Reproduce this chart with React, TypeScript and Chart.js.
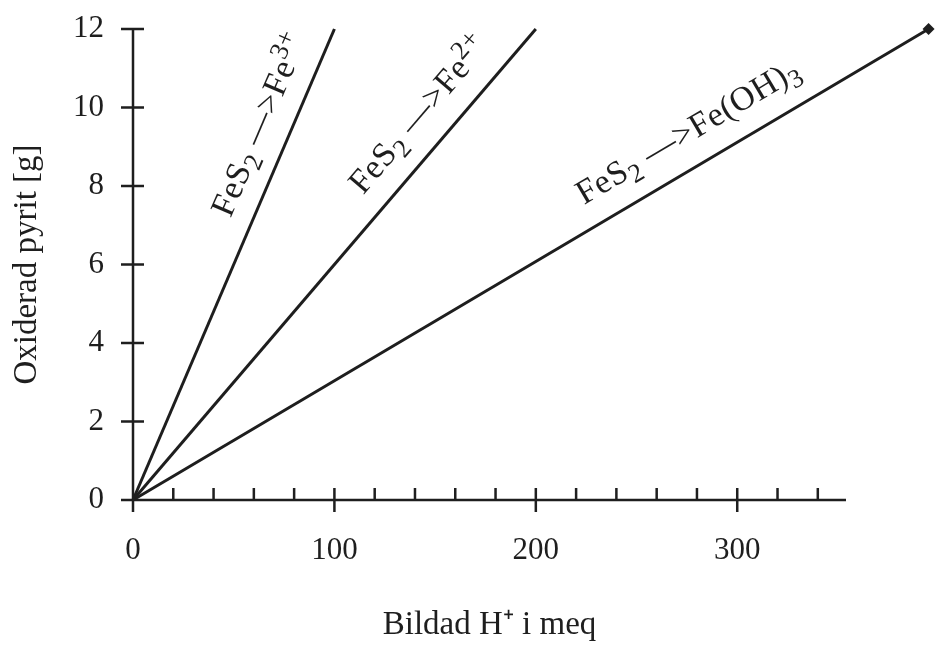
import React, { useEffect, useRef } from 'react';
import { Chart, registerables } from 'chart.js';

Chart.register(...registerables);

// ---- data ----
const fe3X = [0, 100];
const fe3Y = [0, 12];
const fe2X = [0, 200];
const fe2Y = [0, 12];
const feOH3X = [0, 395];
const feOH3Y = [0, 12];

const xTickLabels = [0, 100, 200, 300];
const xMinorTicks = [20, 40, 60, 80, 120, 140, 160, 180, 220, 240, 260, 280, 320, 340];
const yTicks = [0, 2, 4, 6, 8, 10, 12];
const xAxisMax = 354;

const xTitle = 'Bildad H\u207A i meq';
const yTitle = 'Oxiderad pyrit [g]';

// rich-text line labels: [text, kind] kind 0 normal, -1 subscript, 1 superscript
const label1Parts: [string, number][] = [['FeS', 0], ['2', -1], [' \u2014>Fe', 0], ['3+', 1]];
const label2Parts: [string, number][] = [['FeS', 0], ['2', -1], [' \u2014>Fe', 0], ['2+', 1]];
const label3Parts: [string, number][] = [['FeS', 0], ['2', -1], [' \u2014>Fe(OH)', 0], ['3', -1]];
const labelAnchorX = [58, 123, 230];
const labelOffsets = [21, 23, 24];

const FONT = '"Liberation Serif", "Times New Roman", serif';
const INK = '#1e1e1e';

const decorPlugin = {
  id: 'decor',
  beforeDatasetsDraw(chart: any) {
    const { ctx } = chart;
    const xs = chart.scales.x;
    const ys = chart.scales.y;
    const x0 = xs.getPixelForValue(0);
    const y0 = ys.getPixelForValue(0);
    ctx.save();
    ctx.strokeStyle = INK;
    ctx.lineWidth = 2.5;
    ctx.lineCap = 'butt';
    ctx.beginPath();
    ctx.moveTo(x0, ys.getPixelForValue(12) - 1);
    ctx.lineTo(x0, y0 + 12);
    ctx.moveTo(x0 - 12, y0);
    ctx.lineTo(xs.getPixelForValue(xAxisMax), y0);
    for (const v of yTicks) {
      const y = ys.getPixelForValue(v);
      ctx.moveTo(x0 - 12, y);
      ctx.lineTo(x0 + 11, y);
    }
    for (const v of xTickLabels) {
      const x = xs.getPixelForValue(v);
      ctx.moveTo(x, y0 - 12);
      ctx.lineTo(x, y0 + 12);
    }
    for (const v of xMinorTicks) {
      const x = xs.getPixelForValue(v);
      ctx.moveTo(x, y0 - 12);
      ctx.lineTo(x, y0);
    }
    ctx.stroke();
    ctx.restore();
  },
  afterDatasetsDraw(chart: any) {
    const { ctx } = chart;
    const xs = chart.scales.x;
    const ys = chart.scales.y;

    // end-point diamond of the Fe(OH)3 line (outside the chart area, so drawn here)
    const meta = chart.getDatasetMeta(2);
    const endPt = meta.data[meta.data.length - 1];
    if (endPt) {
      const r = 6;
      ctx.save();
      ctx.fillStyle = INK;
      ctx.beginPath();
      ctx.moveTo(endPt.x, endPt.y - r);
      ctx.lineTo(endPt.x + r, endPt.y);
      ctx.lineTo(endPt.x, endPt.y + r);
      ctx.lineTo(endPt.x - r, endPt.y);
      ctx.closePath();
      ctx.fill();
      ctx.restore();
    }

    const lines = [
      { xsArr: fe3X, ysArr: fe3Y, parts: label1Parts },
      { xsArr: fe2X, ysArr: fe2Y, parts: label2Parts },
      { xsArr: feOH3X, ysArr: feOH3Y, parts: label3Parts },
    ];
    const size = 34;
    lines.forEach((ln, i) => {
      const px0 = xs.getPixelForValue(ln.xsArr[0]);
      const py0 = ys.getPixelForValue(ln.ysArr[0]);
      const px1 = xs.getPixelForValue(ln.xsArr[1]);
      const py1 = ys.getPixelForValue(ln.ysArr[1]);
      const dx = px1 - px0;
      const dy = py1 - py0;
      const len = Math.hypot(dx, dy);
      const nx = dy / len;
      const ny = -dx / len;
      const ax = labelAnchorX[i];
      const ay = ln.ysArr[0] + ((ln.ysArr[1] - ln.ysArr[0]) * (ax - ln.xsArr[0])) / (ln.xsArr[1] - ln.xsArr[0]);
      const off = labelOffsets[i];
      const apx = xs.getPixelForValue(ax) + nx * off;
      const apy = ys.getPixelForValue(ay) + ny * off;
      ctx.save();
      ctx.translate(apx, apy);
      ctx.rotate(Math.atan2(dy, dx));
      ctx.fillStyle = INK;
      ctx.textBaseline = 'alphabetic';
      ctx.textAlign = 'left';
      try { (ctx as any).letterSpacing = '0.5px'; } catch (e) {}
      let cx = 0;
      for (const [t, kind] of ln.parts) {
        const s = kind === 0 ? size : size * 0.78;
        const sh = kind === -1 ? size * 0.22 : kind === 1 ? -size * 0.36 : 0;
        ctx.font = `${s}px ${FONT}`;
        ctx.fillText(t, cx, sh);
        cx += ctx.measureText(t).width;
      }
      ctx.restore();
    });
  },
};

export default function App() {
  const ref = useRef<HTMLCanvasElement | null>(null);
  useEffect(() => {
    if (!ref.current) return;
    const mk = (xa: number[], ya: number[]) => xa.map((x, i) => ({ x, y: ya[i] }));
    const chart = new Chart(ref.current, {
      type: 'scatter',
      data: {
        datasets: [
          { data: mk(fe3X, fe3Y), showLine: true, borderColor: INK, borderWidth: 3, pointRadius: 0, clip: false } as any,
          { data: mk(fe2X, fe2Y), showLine: true, borderColor: INK, borderWidth: 3, pointRadius: 0, clip: false } as any,
          { data: mk(feOH3X, feOH3Y), showLine: true, borderColor: INK, borderWidth: 3, pointRadius: 0, clip: false } as any,
        ],
      },
      options: {
        responsive: false,
        animation: false,
        events: [],
        layout: { padding: { top: 29, right: 102, left: 0, bottom: 0 }, autoPadding: false } as any,
        plugins: { legend: { display: false }, tooltip: { enabled: false } },
        scales: {
          x: {
            type: 'linear',
            min: 0,
            max: xAxisMax,
            afterBuildTicks: (s: any) => { s.ticks = xTickLabels.map((v) => ({ value: v })); },
            afterFit: (s: any) => { s.height = 149; s.paddingLeft = 0; s.paddingRight = 0; },
            grid: { display: false, drawTicks: false },
            border: { display: false },
            ticks: { padding: 32, font: { family: FONT, size: 31 }, color: INK, maxRotation: 0, autoSkip: false },
            title: { display: true, text: xTitle, font: { family: FONT, size: 33 }, color: INK, padding: { top: 0, bottom: 4 } },
          },
          y: {
            type: 'linear',
            min: 0,
            max: 12,
            afterBuildTicks: (s: any) => { s.ticks = yTicks.map((v) => ({ value: v })); },
            afterFit: (s: any) => { s.width = 133; s.paddingTop = 0; s.paddingBottom = 0; },
            grid: { display: false, drawTicks: false },
            border: { display: false },
            ticks: { padding: 29, font: { family: FONT, size: 31 }, color: INK, autoSkip: false },
            title: { display: true, text: yTitle, font: { family: FONT, size: 33 }, color: INK, padding: { top: 8, bottom: 0 } },
          },
        },
      } as any,
      plugins: [decorPlugin],
    });
    return () => chart.destroy();
  }, []);
  return (
    <div style={{ position: 'absolute', left: 0, top: 0, width: 948, height: 649, background: '#fff' }}>
      <canvas ref={ref} width={948} height={649} style={{ width: 948, height: 649, display: 'block' }} />
    </div>
  );
}
